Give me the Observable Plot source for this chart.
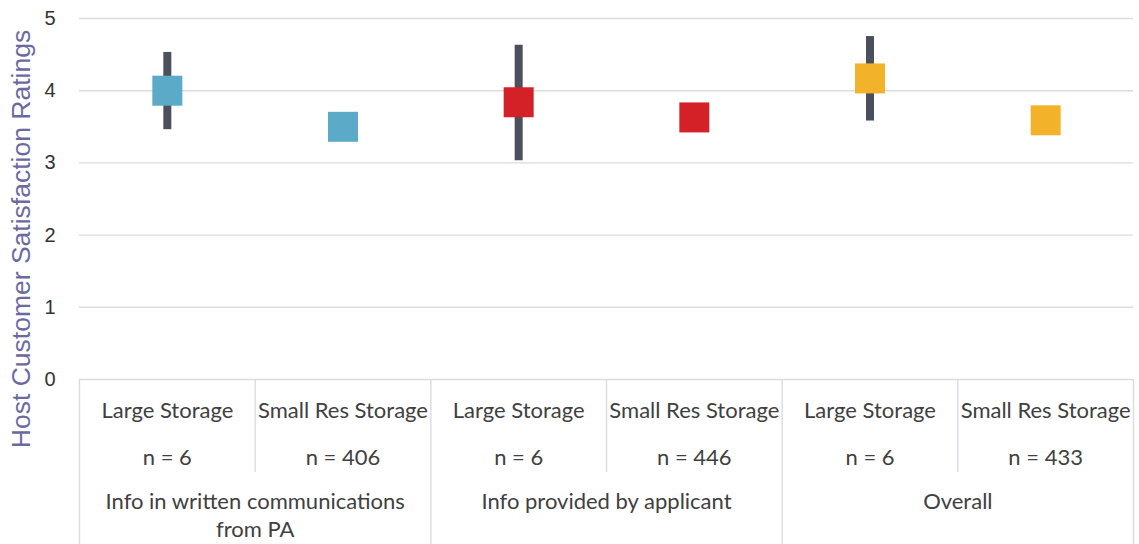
<!DOCTYPE html>
<html>
<head>
<meta charset="utf-8">
<script src="https://cdn.jsdelivr.net/npm/d3@7"></script>
<script src="https://cdn.jsdelivr.net/npm/@observablehq/plot@0.6"></script>
<style>
  html, body { margin: 0; padding: 0; background: #fff; }
  svg { display: block; }
</style>
</head>
<body>
<div id="chart"></div>
<script>
// ---- data ----
const subLabels = ["Large Storage", "Small Res Storage", "Large Storage", "Small Res Storage", "Large Storage", "Small Res Storage"];
const nLabels = ["n = 6", "n = 406", "n = 6", "n = 446", "n = 6", "n = 433"];
const groupLabels = ["Info in written communications\nfrom PA", "Info provided by applicant", "Overall"];
const groupOf = [0, 0, 1, 1, 2, 2];
const means = [4.00, 3.50, 3.84, 3.63, 4.17, 3.59];
const lows  = [3.46, null, 3.03, null, 3.58, null];
const highs = [4.53, null, 4.63, null, 4.75, null];
const groupColors = ["#5aaac8", "#d42127", "#f2b32a"];
const yTicks = [0, 1, 2, 3, 4, 5];
const axisTitle = "Host Customer Satisfaction Ratings";

// ---- derived tables ----
const rows = means.map((m, i) => ({i, mean: m, lo: lows[i], hi: highs[i], color: groupColors[groupOf[i]], sub: subLabels[i], n: nLabels[i]}));
const bars = rows.filter(d => d.lo != null);
const groups = groupLabels.map((g, k) => ({x: 2 * k + 0.5, label: g}));
const fullBorders = [-0.5, 1.5, 3.5, 5.5];
const shortBorders = [0.5, 2.5, 4.5];

const gridColor = "#d9dce1";
const textColor = "#404040";
const tableFont = "Lato, 'Open Sans', sans-serif";

const chart = Plot.plot({
  width: 1139,
  height: 544,
  marginLeft: 79,
  marginRight: 6,
  marginTop: 18,
  marginBottom: 165,
  style: {fontFamily: "'Liberation Sans', Arial, sans-serif", background: "#fff"},
  x: {domain: [-0.5, 5.5], axis: null},
  y: {domain: [0, 5], axis: null},
  marks: [
    // gridlines
    Plot.ruleY(yTicks, {stroke: gridColor, strokeWidth: 1.4}),
    // y tick labels
    Plot.axisY(yTicks, {tickSize: 0, tickPadding: 24, fontSize: 20, fill: "#333", label: null, tickFormat: d => String(d)}),
    // y axis title
    Plot.text([axisTitle], {frameAnchor: "left", textAnchor: "middle", dx: -58, dy: 40, rotate: -90, fontSize: 26.5, fill: "#6b6a9f", fontFamily: "'Liberation Sans', Arial, sans-serif"}),
    // table borders
    Plot.ruleX(fullBorders, {y1: 0, y2: -2.32, stroke: gridColor, strokeWidth: 1.4}),
    Plot.ruleX(shortBorders, {y1: 0, y2: -1.29, stroke: gridColor, strokeWidth: 1.4}),
    // table text
    Plot.text(rows, {x: "i", y: 0, dy: 31, text: "sub", fontSize: 22, fill: textColor, fontFamily: tableFont}),
    Plot.text(rows, {x: "i", y: 0, dy: 78, text: "n", fontSize: 22, fill: textColor, fontFamily: tableFont}),
    Plot.text(groups, {x: "x", y: 0, dy: 110, text: "label", lineAnchor: "top", lineHeight: 1.27, fontSize: 22, fill: textColor, fontFamily: tableFont}),
    // error bars
    Plot.ruleX(bars, {x: "i", y1: "lo", y2: "hi", stroke: "#4a505c", strokeWidth: 8}),
    // mean squares
    Plot.dot(rows, {x: "i", y: "mean", symbol: "square", r: 30 / Math.sqrt(Math.PI), fill: "color", stroke: "none"})
  ]
});

document.getElementById("chart").appendChild(chart);
</script>
</body>
</html>
